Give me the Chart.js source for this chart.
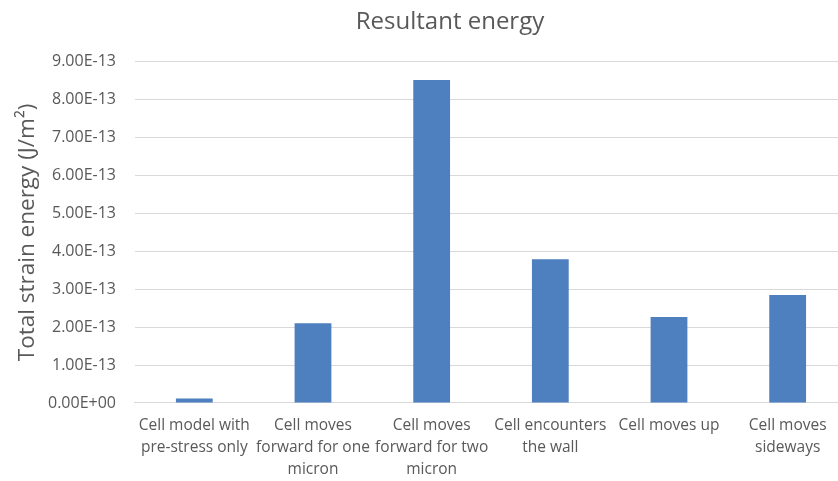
<!DOCTYPE html>
<html>
<head>
<meta charset="utf-8">
<script src="https://cdn.jsdelivr.net/npm/chart.js@4/dist/chart.umd.min.js"></script>
<style>
  html, body { margin: 0; padding: 0; background: #fff; overflow: hidden; }
  #wrap { width: 896px; height: 481px; }
</style>
</head>
<body>
<div id="wrap"><canvas id="myChart"></canvas></div>
<script>
// categories and values (J/m^2)
var categories = [
    ["Cell model with", "pre-stress only"],
    ["Cell moves", "forward for one", "micron"],
    ["Cell moves", "forward for two", "micron"],
    ["Cell encounters", "the wall"],
    ["Cell moves up"],
    ["Cell moves", "sideways"]
];
var energy = [0.12e-13, 2.10e-13, 8.52e-13, 3.79e-13, 2.27e-13, 2.85e-13];
var yMin = 0;
var yMax = 9e-13;
var yStep = 1e-13;

var grey = "#595959";

function sciLabel(v) {
    var parts = Number(v).toExponential(2).split("e");
    var exp = parseInt(parts[1], 10);
    var sign = exp < 0 ? "-" : "+";
    var digits = String(Math.abs(exp));
    if (digits.length < 2) digits = "0" + digits;
    return parts[0] + "E" + sign + digits;
}

// shift the title so it sits where the original one does
var titleShift = {
    id: "titleShift",
    afterLayout: function (chart) {
        if (chart.titleBlock) {
            chart.titleBlock.left = 0;
            chart.titleBlock.right = 900;
        }
    }
};

var ctx = document.getElementById("myChart").getContext("2d");

var myChart = new Chart(ctx, {
    type: "bar",
    data: {
        labels: categories,
        datasets: [
            {
                label: "Total strain energy",
                data: energy,
                backgroundColor: "#4e7fbe",
                borderWidth: 0,
                categoryPercentage: 1,
                barPercentage: 0.31
            }
        ]
    },
    options: {
        responsive: true,
        maintainAspectRatio: false,
        animation: false,
        layout: { padding: { left: 14, right: 49, top: 8, bottom: -12 } },
        plugins: {
            legend: { display: false },
            tooltip: { enabled: false },
            title: {
                display: true,
                text: "Resultant energy",
                color: grey,
                font: { family: "Open Sans", size: 24, weight: "normal", lineHeight: 1.2 },
                padding: { top: 0, bottom: 25 }
            }
        },
        scales: {
            x: {
                grid: { display: false, drawTicks: false, tickLength: 0 },
                border: { color: "#d9d9d9" },
                ticks: {
                    color: grey,
                    font: { family: "Open Sans", size: 15.5, lineHeight: 1.42 },
                    maxRotation: 0,
                    autoSkip: false,
                    padding: 12
                }
            },
            y: {
                min: yMin,
                max: yMax,
                grid: { color: "#d9d9d9", drawTicks: false },
                border: { display: false },
                ticks: {
                    stepSize: yStep,
                    color: grey,
                    font: { family: "Open Sans", size: 16 },
                    padding: 19,
                    callback: function (v) { return sciLabel(v); }
                },
                title: {
                    display: true,
                    text: "Total strain energy (J/m²)",
                    color: grey,
                    font: { family: "Open Sans", size: 22.5, lineHeight: 1.2 },
                    padding: { top: 0, bottom: -12 }
                }
            }
        }
    },
    plugins: [titleShift]
});
</script>
</body>
</html>
